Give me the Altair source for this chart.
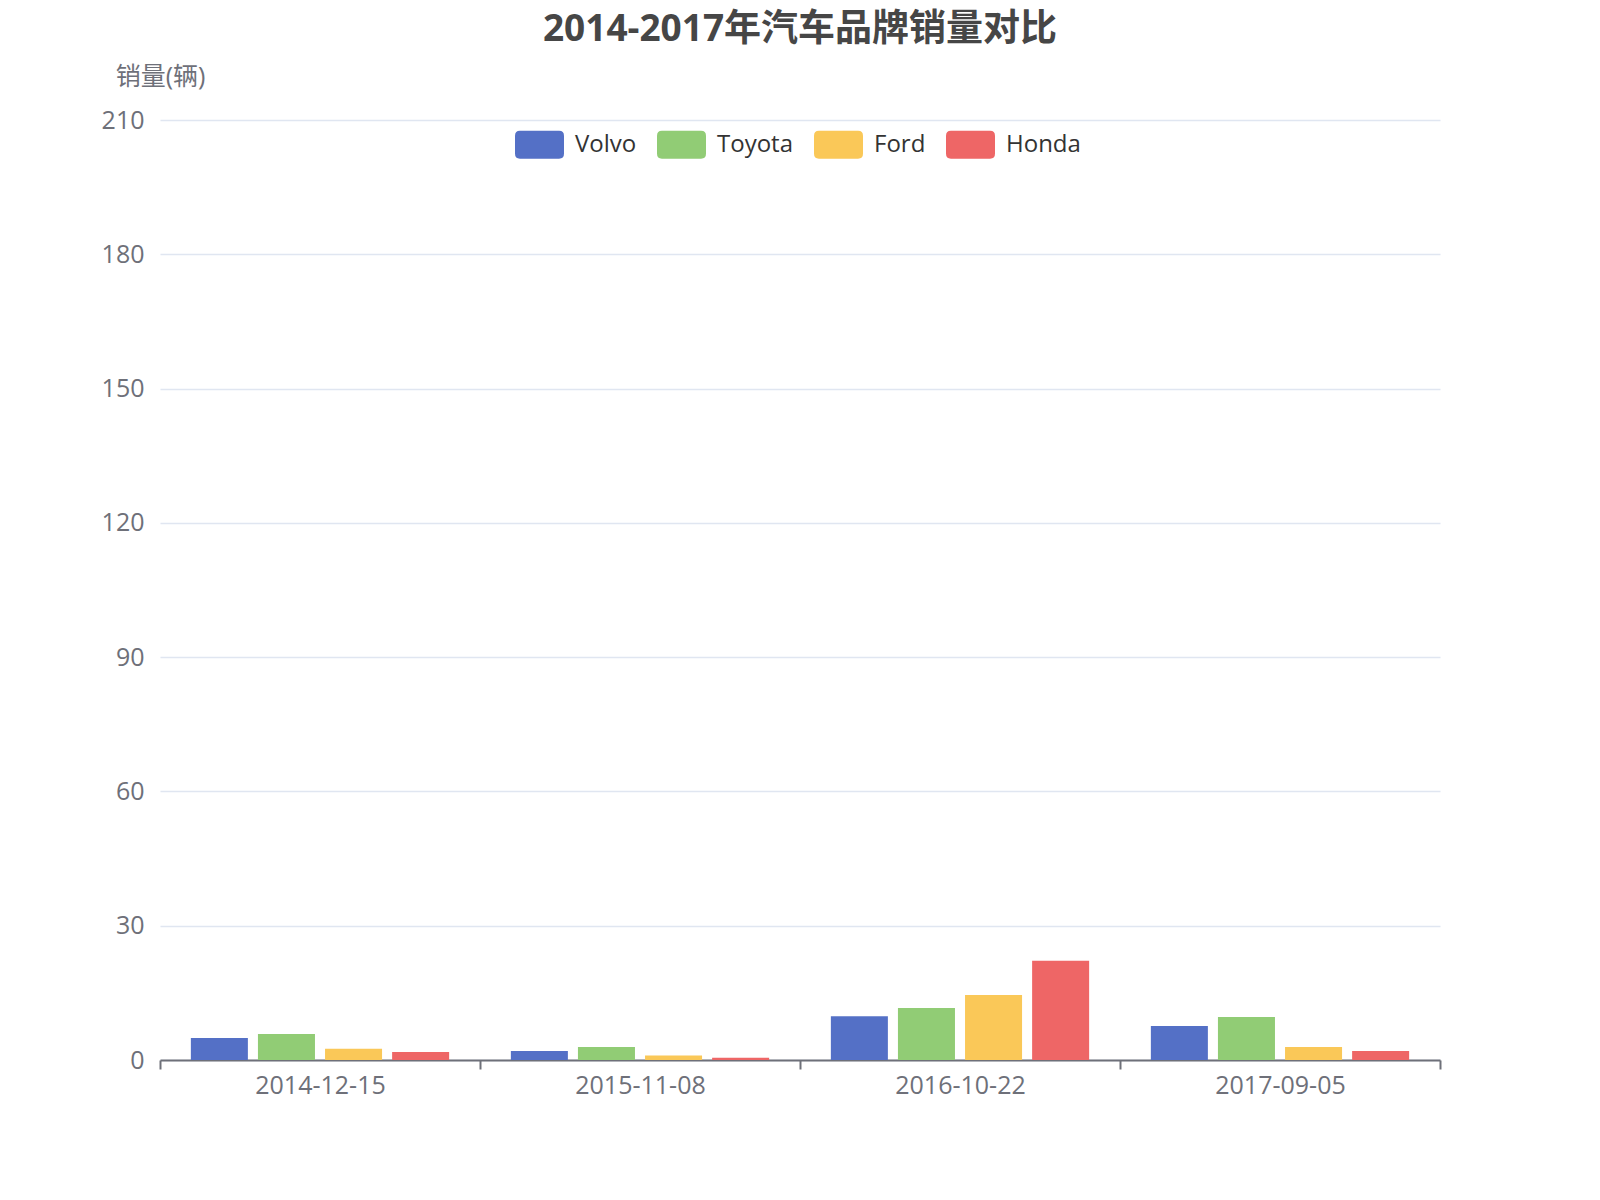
import altair as alt
import pandas as pd

dates = ["2014-12-15", "2015-11-08", "2016-10-22", "2017-09-05"]
brands = ["Volvo", "Toyota", "Ford", "Honda"]
volvo = [4.9, 2.0, 9.8, 7.6]
toyota = [5.8, 2.9, 11.6, 9.6]
ford = [2.5, 1.0, 14.5, 2.9]
honda = [1.8, 0.5, 22.2, 2.0]
colors = ["#5470c6", "#91cc75", "#fac858", "#ee6666"]
y_ticks = [0, 30, 60, 90, 120, 150, 180, 210]

series = {"Volvo": volvo, "Toyota": toyota, "Ford": ford, "Honda": honda}
rows = []
for b in brands:
    for d, v in zip(dates, series[b]):
        rows.append({"date": d, "brand": b, "sales": v})
df = pd.DataFrame(rows)

FONT = "'Open Sans', 'Noto Sans CJK SC', sans-serif"
rrect = ("M-0.8,-0.57 L0.8,-0.57 Q1,-0.57 1,-0.37 L1,0.37 Q1,0.57 0.8,0.57 "
         "L-0.8,0.57 Q-1,0.57 -1,0.37 L-1,-0.37 Q-1,-0.57 -0.8,-0.57 Z")

chart = alt.Chart(df).mark_bar().encode(
    x=alt.X("date:N", sort=dates,
            scale=alt.Scale(paddingInner=0, paddingOuter=0),
            axis=alt.Axis(title=None, labelAngle=0, tickBand="extent",
                          domainColor="#6E7079", domainWidth=2,
                          tickColor="#6E7079", tickWidth=2, tickSize=9,
                          labelColor="#6E7079", labelFontSize=25, labelFont=FONT,
                          labelPadding=4, grid=False)),
    xOffset=alt.XOffset("brand:N", sort=brands,
                        scale=alt.Scale(paddingInner=0.15, paddingOuter=0.46)),
    y=alt.Y("sales:Q", scale=alt.Scale(domain=[0, 210], nice=False),
            axis=alt.Axis(title="销量(辆)", titleAngle=0, titleX=0, titleY=-44,
                          titleAlign="center", titleBaseline="middle",
                          titleColor="#6E7079", titleFontSize=25, titleFont=FONT,
                          titleFontWeight="normal",
                          values=y_ticks, domain=False, ticks=False,
                          labelColor="#6E7079", labelFontSize=25, labelFont=FONT,
                          labelPadding=16, gridColor="#E0E6F1", gridWidth=1.5)),
    color=alt.Color("brand:N", sort=brands,
                    scale=alt.Scale(domain=brands, range=colors),
                    legend=alt.Legend(title=None, orient="none", direction="horizontal",
                                      legendX=355, legendY=0,
                                      symbolType=rrect, symbolSize=2401,
                                      symbolStrokeWidth=0, symbolOpacity=1,
                                      labelFontSize=24, labelFont=FONT,
                                      labelColor="#333333", labelOffset=11,
                                      columnPadding=20)),
).properties(
    width=1280, height=940,
    title=alt.TitleParams("2014-2017年汽车品牌销量对比", fontSize=37, font=FONT,
                          fontWeight="bold", color="#464646", anchor="middle",
                          frame="group", offset=15),
    autosize=alt.AutoSizeParams(type="none"),
    padding={"left": 152, "top": 112, "right": 152, "bottom": 120},
).configure_view(stroke=None)

chart.save("out.html", embed_options={"renderer": "svg", "actions": False})
